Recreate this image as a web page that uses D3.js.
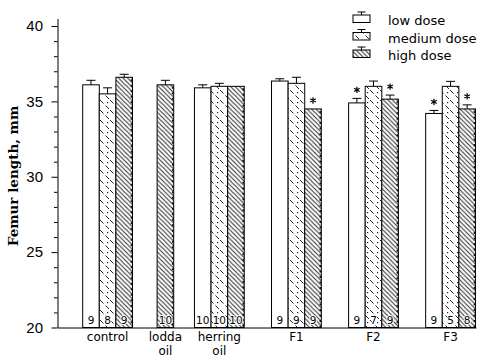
<!DOCTYPE html>
<html><head><meta charset="utf-8">
<script src="https://cdn.jsdelivr.net/npm/d3@7"></script>
<style>body{margin:0;background:#fff}svg{display:block}</style>
</head><body><svg id="c" width="480" height="358"></svg>
<script>
// ---- data ----
const groups = ["control", "lodda oil", "herring oil", "F1", "F2", "F3"];
const groupPos = [1, 1.75, 2.45, 3.45, 4.45, 5.45];
const doses = ["low dose", "medium dose", "high dose"];
const lowVals  = [36.1, null, 35.9, 36.35, 34.9, 34.2];
const lowSE    = [0.3, null, 0.2, 0.15, 0.3, 0.2];
const lowN     = [9, null, 10, 9, 9, 9];
const lowSig   = [0, 0, 0, 0, 1, 1];
const medVals  = [35.5, null, 36.0, 36.2, 36.0, 36.0];
const medSE    = [0.4, null, 0.2, 0.4, 0.35, 0.33];
const medN     = [8, null, 10, 9, 7, 5];
const medSig   = [0, 0, 0, 0, 0, 0];
const highVals = [36.6, 36.1, 36.0, 34.5, 35.15, 34.5];
const highSE   = [0.2, 0.3, 0, 0, 0.27, 0.27];
const highN    = [9, 10, 10, 9, 9, 8];
const highSig  = [0, 0, 0, 1, 1, 1];
const yTicks = [20, 25, 30, 35, 40];
const yLabel = "Femur length, mm";

const series = [
  {name: doses[0], vals: lowVals, se: lowSE, n: lowN, sig: lowSig, fill: "#fff"},
  {name: doses[1], vals: medVals, se: medSE, n: medN, sig: medSig, fill: "url(#pMed)"},
  {name: doses[2], vals: highVals, se: highSE, n: highN, sig: highSig, fill: "url(#pHigh)"}
];

const svg = d3.select("#c");
const defs = svg.append("defs");
const pm = defs.append("pattern").attr("id","pMed").attr("patternUnits","userSpaceOnUse")
  .attr("width",10).attr("height",10);
pm.append("rect").attr("width",10).attr("height",10).attr("fill","#fff");
pm.append("path").attr("d","M0,0L3.5,3.5M5.5,5.5L9,9").attr("stroke","#222").attr("stroke-width",1);
pm.append("rect").attr("x",7).attr("y",2).attr("width",1.2).attr("height",1.2).attr("fill","#222");
const ph = defs.append("pattern").attr("id","pHigh").attr("patternUnits","userSpaceOnUse")
  .attr("width",4.5).attr("height",4.5);
ph.append("rect").attr("width",4.5).attr("height",4.5).attr("fill","#fff");
ph.append("path").attr("d","M0,0L4.5,4.5M-1,3.5L1,5.5M3.5,-1L5.5,1").attr("stroke","#333")
  .attr("stroke-width",1.1);

const y = d3.scaleLinear().domain([20, 40.5]).range([327.5, 18.5]);
const x = d3.scaleLinear().domain([0.35, 5.78]).range([57.5, 476]);
const bw = 16.6;

// axes
const gy = svg.append("g").attr("transform","translate(57.5,0)");
gy.call(d3.axisLeft(y).tickValues(yTicks).tickSize(6).tickSizeOuter(0).tickPadding(8.5).tickFormat(d3.format("d")));
gy.selectAll("text").attr("font-family","Liberation Sans, Arial, sans-serif").attr("font-size",15).attr("fill","#000");
const minor = d3.range(21, 41).filter(v => v % 5 !== 0);
svg.append("g").attr("transform","translate(57.5,0)")
  .call(d3.axisLeft(y).tickValues(minor).tickSize(3.5).tickFormat(""))
  .select(".domain").remove();
svg.append("g").attr("transform","translate(0,327.5)")
  .call(d3.axisBottom(x).tickValues([]).tickSizeOuter(0));

const star = d3.symbol().type(d3.symbolAsterisk).size(28);

// bars
const gb = svg.append("g");
groups.forEach((g, i) => {
  const present = series.filter(s => s.vals[i] != null);
  const cx = x(groupPos[i]);
  const band = d3.scaleBand().domain(present.map(s => s.name))
    .range([cx - present.length * bw / 2, cx + present.length * bw / 2]);
  present.forEach(s => {
    const v = s.vals[i], bx = band(s.name), w = band.bandwidth();
    gb.append("rect").attr("x", bx).attr("y", y(v)).attr("width", w).attr("height", y(20) - y(v))
      .attr("fill", s.fill).attr("stroke", "#000").attr("stroke-width", 1);
    if (s.name === doses[2]) {
      gb.append("line").attr("x1", bx + w - 1).attr("x2", bx + w - 1).attr("y1", y(v) + 2).attr("y2", y(20))
        .attr("stroke", "#111").attr("stroke-width", 1.6).attr("stroke-dasharray", "2,3.5");
    }
    const top = y(v + (s.se[i] || 0));
    if (s.se[i] > 0) {
      gb.append("line").attr("x1", bx + w/2).attr("x2", bx + w/2).attr("y1", y(v)).attr("y2", top).attr("stroke","#000");
      gb.append("line").attr("x1", bx + w/2 - 4.5).attr("x2", bx + w/2 + 4.5).attr("y1", top).attr("y2", top).attr("stroke","#000");
    }
    if (s.sig[i]) {
      gb.append("path").attr("d", star).attr("transform", `translate(${bx + w/2},${top - 8.5})`)
        .attr("fill","none").attr("stroke","#000").attr("stroke-width",1.2);
    }
    gb.append("text").attr("x", bx + w/2).attr("y", 324).attr("text-anchor","middle")
      .attr("font-family","DejaVu Sans, sans-serif").attr("font-size",10.5).attr("fill","#000")
      .attr("paint-order","stroke").attr("stroke","#fff").attr("stroke-width",2)
      .text(s.n[i]);
  });
  g.split(" ").forEach((part, k) => {
    svg.append("text").attr("x", cx).attr("y", 341 + k * 14).attr("text-anchor","middle")
      .attr("font-family","DejaVu Sans, sans-serif").attr("font-size",12).attr("fill","#000").text(part);
  });
});

// y label
svg.append("text").attr("transform","translate(18,176) rotate(-90)").attr("text-anchor","middle")
  .attr("font-family","DejaVu Serif, serif").attr("font-weight","bold").attr("font-size",13.5)
  .attr("fill","#000").text(yLabel);

// legend
const lg = svg.append("g");
series.forEach((s, k) => {
  const base = 25 + k * 17.5;
  lg.append("rect").attr("x", 353).attr("y", base - 10).attr("width", 17).attr("height", 7.5)
    .attr("fill", s.fill).attr("stroke", "#000");
  lg.append("line").attr("x1", 361.5).attr("x2", 361.5).attr("y1", base - 13).attr("y2", base - 10).attr("stroke","#000");
  lg.append("line").attr("x1", 357.5).attr("x2", 365.5).attr("y1", base - 13).attr("y2", base - 13).attr("stroke","#000");
  lg.append("text").attr("x", 388).attr("y", base).attr("font-family","DejaVu Sans, sans-serif")
    .attr("font-size",13).attr("fill","#000").text(s.name);
});
</script></body></html>
